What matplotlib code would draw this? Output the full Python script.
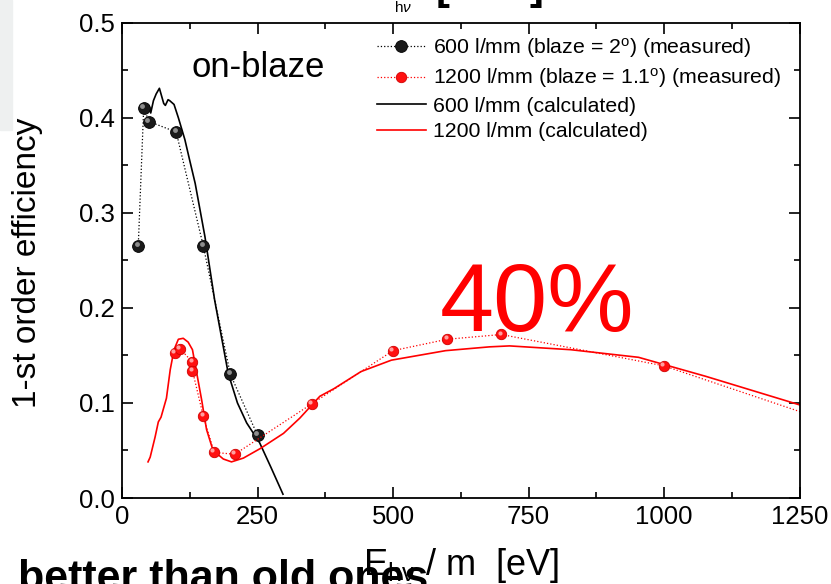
import numpy as np
import matplotlib
matplotlib.use("Agg")
import matplotlib.pyplot as plt
from matplotlib.transforms import offset_copy
from matplotlib.patches import Rectangle

plt.rcParams['font.family'] = ['Liberation Sans', 'DejaVu Sans']
plt.rcParams['mathtext.fontset'] = 'custom'
plt.rcParams['mathtext.rm'] = 'Liberation Sans'
plt.rcParams['mathtext.it'] = 'Liberation Sans:italic'

# measured efficiency, 600 l/mm grating (blaze 2 deg)
e600_meas = [30, 40, 50, 100, 150, 200, 250]
eff600_meas = [0.265, 0.410, 0.396, 0.385, 0.265, 0.130, 0.066]

# measured efficiency, 1200 l/mm grating (blaze 1.1 deg)
e1200_meas = [98, 107, 130, 130, 150, 170, 208, 350, 500, 600, 700, 1000, 1500]
eff1200_meas = [0.153, 0.157, 0.143, 0.134, 0.086, 0.048, 0.046, 0.099,
                0.155, 0.167, 0.172, 0.139, 0.043]

# calculated efficiency, 600 l/mm
e600_calc = [50, 53, 58, 63, 69, 73, 77, 80, 85, 88, 92, 96, 104, 116, 125,
             135, 153, 171, 196, 213, 230, 254, 275, 297]
eff600_calc = [0.412, 0.405, 0.418, 0.425, 0.431, 0.423, 0.415, 0.413, 0.419,
               0.418, 0.416, 0.414, 0.400, 0.377, 0.355, 0.331, 0.275, 0.208,
               0.131, 0.100, 0.079, 0.058, 0.032, 0.004]

# calculated efficiency, 1200 l/mm
e1200_calc = [48, 52, 61, 67, 72, 76, 82, 89, 96, 104, 113, 122, 130, 138, 147,
              156, 168, 187, 202, 224, 255, 298, 328, 365, 391, 441, 497, 597,
              678, 715, 828, 953, 1077, 1250]
eff1200_calc = [0.038, 0.043, 0.064, 0.080, 0.085, 0.093, 0.105, 0.135, 0.156,
                0.167, 0.168, 0.164, 0.156, 0.131, 0.103, 0.072, 0.050, 0.041,
                0.038, 0.042, 0.052, 0.068, 0.084, 0.107, 0.115, 0.133, 0.145,
                0.155, 0.159, 0.160, 0.156, 0.148, 0.128, 0.098]

fig = plt.figure(figsize=(8.31, 5.84), dpi=100)
ax = fig.add_axes([122 / 831, 86 / 584, 677.5 / 831, 475.3 / 584])

# calculated curves
ax.plot(e600_calc, eff600_calc, color='black', lw=1.2, label='600 l/mm (calculated)')
ax.plot(e1200_calc, eff1200_calc, color='red', lw=1.2, label='1200 l/mm (calculated)')

# measured points, drawn as shaded balls
ax.plot(e600_meas, eff600_meas, ls=':', lw=0.9, color='black', marker='o', ms=8.5,
        mfc='#1a1a1a', mec='#000000', mew=0.6,
        label=r'600 l/mm (blaze = 2$^{\rm o}$) (measured)')
ax.plot(e1200_meas, eff1200_meas, ls=':', lw=0.9, color='red', marker='o', ms=7.5,
        mfc='#ff1010', mec='#d00000', mew=0.6,
        label=r'1200 l/mm (blaze = 1.1$^{\rm o}$) (measured)')

hl = offset_copy(ax.transData, fig=fig, x=-1.2, y=1.4, units='points')
ax.plot(e600_meas, eff600_meas, ls='none', marker='o', ms=3.5, mfc='#9a9a9a',
        mec='none', alpha=0.9, transform=hl)
ax.plot(e1200_meas, eff1200_meas, ls='none', marker='o', ms=3.0, mfc='#ffb0b0',
        mec='none', alpha=0.9, transform=hl)

ax.set_xlim(0, 1250)
ax.set_ylim(0, 0.5)
ax.set_xticks([0, 250, 500, 750, 1000, 1250])
ax.set_xticks(np.arange(125, 1250, 250), minor=True)
ax.set_yticks([0.0, 0.1, 0.2, 0.3, 0.4, 0.5])
ax.set_yticks(np.arange(0.05, 0.5, 0.1), minor=True)
ax.set_yticklabels(['0.0', '0.1', '0.2', '0.3', '0.4', '0.5'])
ax.tick_params(which='both', direction='in', top=True, right=True, width=1.2)
ax.tick_params(which='major', length=8, labelsize=18.5, pad=5)
ax.tick_params(which='minor', length=4)
for sp in ax.spines.values():
    sp.set_linewidth(1.3)

ax.set_ylabel('1-st order efficiency', fontsize=24, va='center')
ax.yaxis.set_label_coords(-0.140, 0.495)
ax.set_xlabel(r'E$_{\rm h\nu}$ / m  [eV]', fontsize=26, va='top')
ax.xaxis.set_label_coords(0.5, -0.102)

ax.text(128, 0.4426, 'on-blaze', fontsize=25, ha='left', va='baseline')
ax.text(587, 0.176, '40%', fontsize=70, color='red', ha='left', va='baseline')

handles, labels = ax.get_legend_handles_labels()
order = [2, 3, 0, 1]
ax.legend([handles[i] for i in order], [labels[i] for i in order],
          loc='upper left', bbox_to_anchor=(0.376, 0.972), frameon=False,
          fontsize=15.3, borderpad=0, borderaxespad=0, labelspacing=0.3,
          handlelength=2.3, handletextpad=0.33)

# slide fragments around the plot
fig.patches.append(Rectangle((0, 1 - 130 / 584), 12 / 831, 130 / 584,
                             transform=fig.transFigure, color='#eef0f0', zorder=-1))
fig.text(18 / 831, -6 / 584, 'better than old ones', fontsize=31,
         fontweight='bold', ha='left', va='baseline')
fig.text(394 / 831, 1 - 12 / 584, r'h$\nu$', fontsize=11, ha='left', va='baseline')
fig.text(436 / 831, 1 + 1 / 584, '[', fontsize=30, fontweight='bold',
         ha='left', va='baseline')
fig.text(530 / 831, 1 + 1 / 584, ']', fontsize=30, fontweight='bold',
         ha='left', va='baseline')

fig.savefig('out.png', dpi=100)
